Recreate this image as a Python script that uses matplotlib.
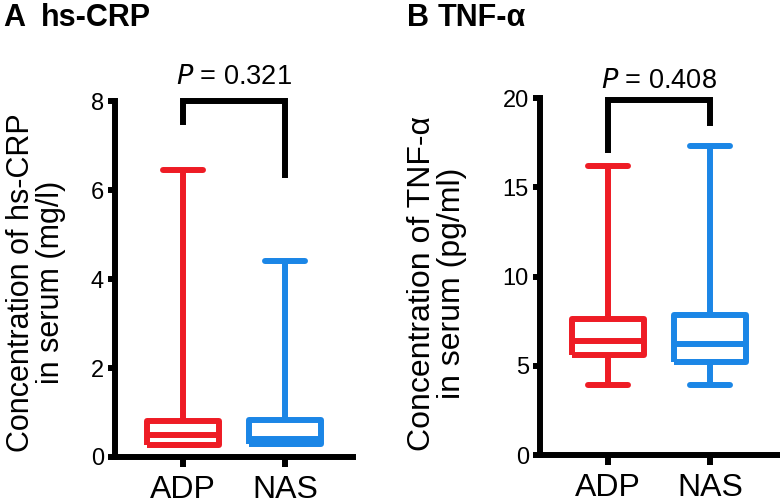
import numpy as np
import matplotlib
matplotlib.use('Agg')
import matplotlib.pyplot as plt

plt.rcParams.update({'font.family': ['Liberation Sans', 'DejaVu Sans']})

groups = ['ADP', 'NAS']
colors = ['#EE1C25', '#1B86E6']

# hs-CRP (mg/l): min, q1, median, q3, max
crp_min = [0.28, 0.29]
crp_q1 = [0.28, 0.29]
crp_med = [0.49, 0.40]
crp_q3 = [0.81, 0.83]
crp_max = [6.45, 4.40]

# TNF-alpha (pg/ml)
tnf_min = [3.9, 3.9]
tnf_q1 = [5.6, 5.2]
tnf_med = [6.4, 6.2]
tnf_q3 = [7.6, 7.85]
tnf_max = [16.2, 17.3]

LW = 4.3


def draw_panel(ax, mins, q1s, meds, q3s, maxs, ymax, yticks, ylabel,
               bracket, ptext, ptext_y, lab_x, lab_y, lab_size):
    stats = []
    for i in range(2):
        stats.append({'whislo': mins[i], 'q1': q1s[i], 'med': meds[i],
                      'q3': q3s[i], 'whishi': maxs[i], 'fliers': []})
    art = ax.bxp(stats, positions=[1, 2], widths=0.7, capwidths=0.4,
                 showfliers=False)
    for i, c in enumerate(colors):
        for key, lines in [('boxes', art['boxes'][i:i + 1]),
                           ('medians', art['medians'][i:i + 1]),
                           ('whiskers', art['whiskers'][2 * i:2 * i + 2]),
                           ('caps', art['caps'][2 * i:2 * i + 2])]:
            for ln in lines:
                ln.set_color(c)
                ln.set_linewidth(LW)
                ln.set_solid_joinstyle('round')
                ln.set_solid_capstyle('round' if key == 'caps' else 'butt')
                ln.set_clip_on(False)

    ax.set_xlim(0.333, 2.667)
    ax.set_ylim(0, ymax)
    ax.set_yticks(yticks)
    ax.set_xticks([1, 2])
    ax.set_xticklabels(groups)
    for s in ['top', 'right']:
        ax.spines[s].set_visible(False)
    for s in ['left', 'bottom']:
        ax.spines[s].set_linewidth(LW)
    ax.tick_params(axis='y', length=5, width=LW, pad=3, labelsize=17)
    ax.tick_params(axis='x', length=7, width=LW, pad=6, labelsize=23)
    ax.set_ylabel(ylabel, fontsize=lab_size, linespacing=1.0)
    ax.yaxis.set_label_coords(lab_x, lab_y)

    bl, br, btop = bracket
    ax.plot([1, 1, 2, 2], [bl, btop, btop, br], color='black', lw=LW,
            solid_joinstyle='miter', clip_on=False)
    ax.text(1.5, ptext_y, '$\\it{P}$ = ' + ptext, ha='center', va='center',
            fontsize=19.5)


fig = plt.figure(figsize=(7.8, 5.04), dpi=100)
axA = fig.add_axes([0.1474, 0.0933, 0.305, 0.706])
axB = fig.add_axes([0.6923, 0.0972, 0.305, 0.708])

draw_panel(axA, crp_min, crp_q1, crp_med, crp_q3, crp_max, 8, [0, 2, 4, 6, 8],
           'Concentration of hs-CRP\nin serum (mg/l)', (7.53, 6.35, 8.0),
           '0.321', 8.54, -0.206, 0.49, 22)
draw_panel(axB, tnf_min, tnf_q1, tnf_med, tnf_q3, tnf_max, 20, [0, 5, 10, 15, 20],
           'Concentration of TNF-α\nin serum (pg/ml)', (17.1, 18.6, 19.9),
           '0.408', 20.95, -0.306, 0.48, 23)

# panel titles
fig.text(0.004, 0.995, 'A', ha='left', va='top', fontsize=22, fontweight='bold')
fig.text(0.052, 0.995, 'hs-CRP', ha='left', va='top', fontsize=22,
         fontweight='bold')
fig.text(0.522, 0.995, 'B', ha='left', va='top', fontsize=22, fontweight='bold')
fig.text(0.561, 0.995, 'TNF-α', ha='left', va='top', fontsize=22,
         fontweight='bold')

fig.savefig('out.png', dpi=100)
